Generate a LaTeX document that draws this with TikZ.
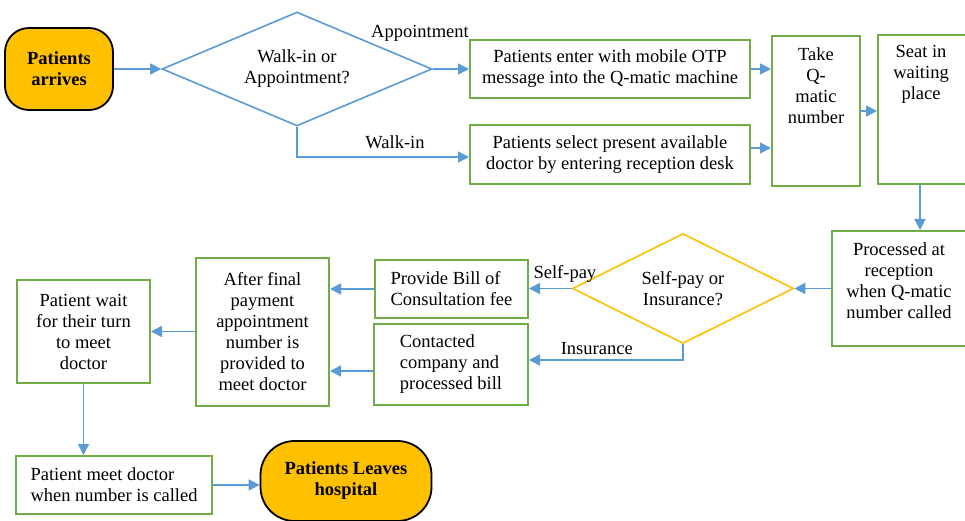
\documentclass[tikz,border=0pt]{standalone}
\usepackage{fontspec}
\setmainfont{Liberation Serif}
\usetikzlibrary{shapes.geometric, arrows.meta}

\definecolor{flowblue}{HTML}{5B9BD5}
\definecolor{boxgreen}{HTML}{70AD47}
\definecolor{termorange}{HTML}{FFC000}

\begin{document}
\begin{tikzpicture}[x=1pt, y=-1pt,
        every node/.style={font=\fontsize{18.5}{21}\selectfont},
        box/.style={draw=boxgreen, line width=2pt, fill=white, align=center, inner sep=2pt},
        term/.style={draw=black, line width=1.8pt, fill=termorange, align=center,
            font=\fontsize{18.5}{21}\selectfont\bfseries},
        decide/.style={diamond, draw=#1, line width=1.6pt, inner sep=0pt, align=center},
        flow/.style={draw=flowblue, line width=1.6pt, -{Triangle[length=11pt, width=11pt]}}]

        % Fix the page size
        \clip (0,0) rectangle (965,521);

        % Top row
        \node[term, rounded corners=24pt, minimum width=108, minimum height=82] (arrive) at (59,69) {Patients\\arrives};
        \node[decide=flowblue, aspect=2.4, minimum width=270, minimum height=114] (ask) at (297,69) {Walk-in or\\Appointment?};
        \node[box, minimum width=280, minimum height=58] (enter) at (610,69)
            {Patients enter with mobile OTP\\message into the Q-matic machine};
        \node[box, minimum width=280, minimum height=59] (select) at (610,155)
            {Patients select present available\\doctor by entering reception desk};
        \node[box, minimum width=88, minimum height=150,
            label={[anchor=north, align=center, inner sep=0pt, yshift=-12pt]north:Take\\Q-\\matic\\number}] (take) at (816,111) {};
        \node[box, minimum width=100, minimum height=149,
            label={[anchor=north, align=center, inner sep=0pt, yshift=-11pt, xshift=-7pt]north:Seat in\\waiting\\place}] (seat) at (928,109.5) {};

        % Middle row
        \node[box, minimum width=140, minimum height=115,
            label={[anchor=north, align=center, inner sep=0pt, yshift=-12pt, xshift=-3pt]north:Processed at\\reception\\when Q-matic\\number called}] (reception) at (902,288.5) {};
        \node[decide=termorange, aspect=2, minimum width=221, minimum height=110] (pay) at (683,288.5) {Self-pay or\\Insurance?};
        \node[box, align=left, minimum width=153, minimum height=58] (bill) at (451.5,289)
            {Provide Bill of\\Consultation fee};
        \node[box, align=left, minimum width=154, minimum height=81] (claim) at (451,364.5)
            {Contacted\\company and\\processed bill};
        \node[box, minimum width=133, minimum height=148] (final) at (262.5,331.5)
            {After final\\payment\\appointment\\number is\\provided to\\meet doctor};
        \node[box, minimum width=133, minimum height=103] (wait) at (83.5,331.5)
            {Patient wait\\for their turn\\to meet\\doctor};

        % Bottom row
        \node[box, align=left, minimum width=196, minimum height=58] (meet) at (114,485)
            {Patient meet doctor\\when number is called};
        \node[term, rounded corners=34pt, minimum width=171, minimum height=80] (leave) at (346,481)
            {Patients Leaves\\hospital};

        % Connectors
        \draw[flow] (arrive.east) -- (ask.west);
        \draw[flow] (ask.east) -- (enter.west);
        \node (apptext) at (420,33) {Appointment};
        \draw[flow] (ask.south) |- ([yshift=-2pt]select.west);
        \node (walktext) at (395,142) {Walk-in};
        \draw[flow] (enter.east) -- (enter.east -| take.west);
        \draw[flow] ([yshift=7pt]select.east) -- ([yshift=7pt]select.east -| take.west);
        \draw[flow] (take.east) -- (take.east -| seat.west);
        \draw[flow] ([xshift=-8pt]seat.south) -- ([xshift=-8pt]seat.south |- reception.north);
        \draw[flow] (reception.west) -- (pay.east);
        \draw[flow] (pay.west) -- (pay.west -| bill.east) node[pos=0.16, above=2pt] {Self-pay};
        \draw[flow] (pay.south) |- ([yshift=4.5pt]claim.east) node[pos=0.78, above=1pt] {Insurance};
        \draw[flow] (bill.west) -- (bill.west -| final.east);
        \draw[flow] ([yshift=-6.5pt]claim.west) -- ([yshift=-6.5pt]claim.west -| final.east);
        \draw[flow] (final.west) -- (wait.east);
        \draw[flow] (wait.south) -- (wait.south |- meet.north);
        \draw[flow] (meet.east) -- (meet.east -| leave.west);
    \end{tikzpicture}
\end{document}
